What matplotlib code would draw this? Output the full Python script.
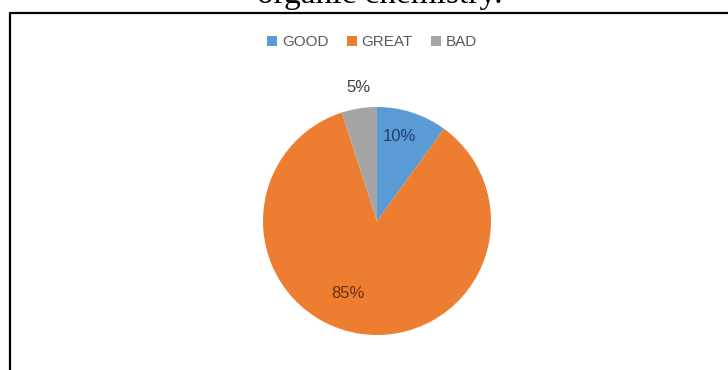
import matplotlib
matplotlib.use("Agg")
import matplotlib.pyplot as plt
from matplotlib.patches import Patch
from matplotlib.lines import Line2D
import math

# data
categories = ["GOOD", "GREAT", "BAD"]
shares = [10, 85, 5]
colors = ["#5B9BD5", "#ED7D31", "#A5A5A5"]
label_colors = ["#1F3F6B", "#6B300C", "#404040"]
# label spots (angle deg, distance in radii) roughly as Excel placed them
label_spots = [(75, 0.77), (-112, 0.69), (98, 1.18)]

W, H = 728, 370
fig = plt.figure(figsize=(W / 100, H / 100), dpi=100)
fig.patch.set_facecolor("white")

# caption cut off at top of the page
fig.text(380 / W, 1 - 3 / H, "organic chemistry.", family="Liberation Serif",
         fontsize=24, ha="center", va="baseline", color="black")

# frame of the chart box (left and top only visible)
fig.add_artist(Line2D([10 / W, 10 / W, 1.0], [0.0, 1 - 13 / H, 1 - 13 / H],
                      transform=fig.transFigure, color="black", lw=1.6))

# pie
cx, cy, r = 377, 221, 114
ax = fig.add_axes([(cx - r) / W, (H - cy - r) / H, 2 * r / W, 2 * r / H])
wedges, _, autotexts = ax.pie(shares, colors=colors, startangle=90, counterclock=False,
                              autopct="%d%%", radius=1,
                              wedgeprops=dict(edgecolor="none"),
                              textprops=dict(family="Liberation Sans", fontsize=12))
for t, (ang, dist), c in zip(autotexts, label_spots, label_colors):
    t.set_position((dist * math.cos(math.radians(ang)), dist * math.sin(math.radians(ang))))
    t.set_color(c)
ax.set_xlim(-1, 1)
ax.set_ylim(-1, 1)
ax.set_aspect("equal")
ax.axis("off")

handles = [Patch(facecolor=c, edgecolor="none") for c in colors]
fig.legend(handles, categories, loc="center", bbox_to_anchor=(372 / W, 1 - 42 / H),
           ncol=3, frameon=False, handlelength=0.65, handleheight=0.65, handletextpad=0.3,
           columnspacing=1.2, prop=dict(family="Liberation Sans", size=11),
           labelcolor="#595959")

fig.savefig("out.png", dpi=100)
